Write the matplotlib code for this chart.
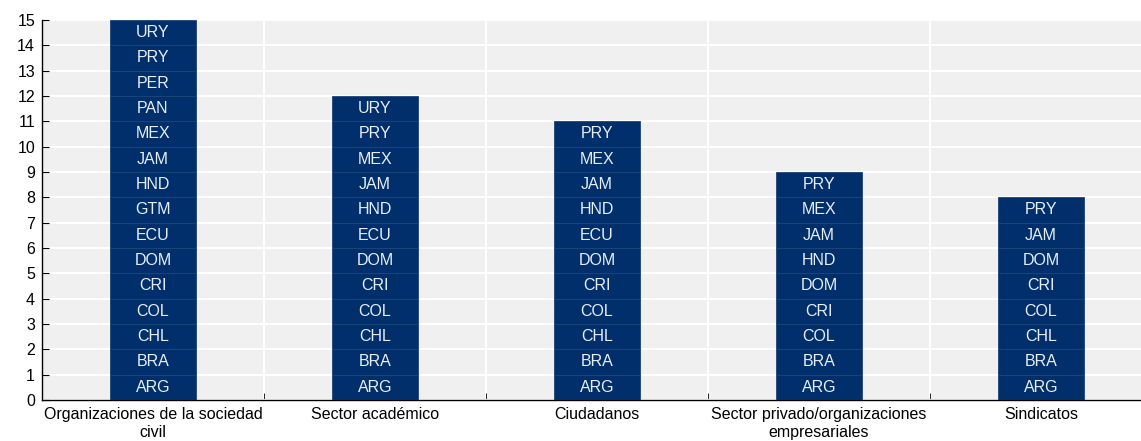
import matplotlib.pyplot as plt
import numpy as np

categorias = ['Organizaciones de la sociedad\ncivil', 'Sector académico', 'Ciudadanos',
              'Sector privado/organizaciones\nempresariales', 'Sindicatos']

# Países en cada barra, de abajo hacia arriba
paises = [
    ['ARG', 'BRA', 'CHL', 'COL', 'CRI', 'DOM', 'ECU', 'GTM', 'HND', 'JAM', 'MEX', 'PAN', 'PER', 'PRY', 'URY'],
    ['ARG', 'BRA', 'CHL', 'COL', 'CRI', 'DOM', 'ECU', 'HND', 'JAM', 'MEX', 'PRY', 'URY'],
    ['ARG', 'BRA', 'CHL', 'COL', 'CRI', 'DOM', 'ECU', 'HND', 'JAM', 'MEX', 'PRY'],
    ['ARG', 'BRA', 'COL', 'CRI', 'DOM', 'HND', 'JAM', 'MEX', 'PRY'],
    ['ARG', 'BRA', 'CHL', 'COL', 'CRI', 'DOM', 'JAM', 'PRY'],
]

plt.rcParams['font.family'] = ['Liberation Sans', 'DejaVu Sans']

fig = plt.figure(figsize=(11.41, 4.41), dpi=100)
ax = fig.add_axes([0.0368, 0.093, 0.9728, 0.8617])
ax.set_facecolor('#F0F0F0')

x = np.arange(len(categorias))
for i, lista in enumerate(paises):
    for j, pais in enumerate(lista):
        ax.bar(x[i], 1, width=0.39, bottom=j, color='#002F6C',
               edgecolor='#1C4479', linewidth=0.6, zorder=3)
        ax.text(x[i], j + 0.5, pais, ha='center', va='center',
                color='#E8EEF6', fontsize=11.5, zorder=4)

ax.set_xlim(-0.5, len(categorias) - 0.5)
ax.set_ylim(0, 15)
ax.set_yticks(range(0, 16))
ax.set_xticks(x)
ax.set_xticklabels(categorias, fontsize=11.5, linespacing=1.25)
ax.set_xticks(x[:-1] + 0.5, minor=True)

ax.tick_params(axis='x', which='major', length=0, pad=5)
ax.tick_params(axis='x', which='minor', direction='in', length=5, color='black')
ax.tick_params(axis='y', direction='in', length=5, labelsize=11.5, pad=5)

ax.set_axisbelow(True)
ax.yaxis.grid(True, color='white', linewidth=1.5)
ax.xaxis.grid(True, which='minor', color='white', linewidth=1.5)

for s in ['top', 'right']:
    ax.spines[s].set_visible(False)
ax.spines['left'].set_linewidth(1)
ax.spines['bottom'].set_linewidth(1)

fig.savefig('out.png', dpi=100)
